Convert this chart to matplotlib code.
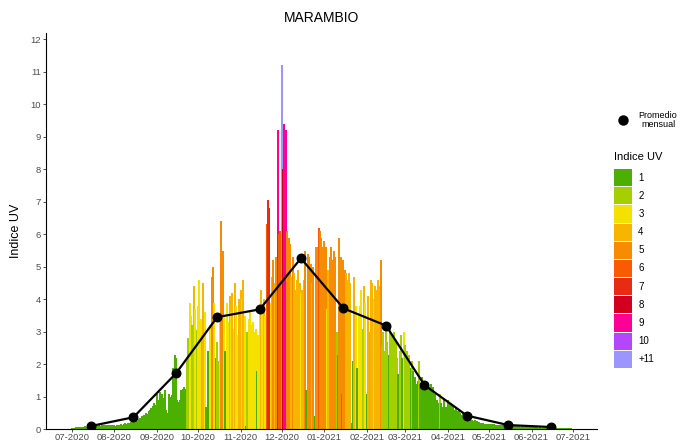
import numpy as np
import pandas as pd
import matplotlib
matplotlib.use("Agg")
import matplotlib.pyplot as plt
import matplotlib.dates as mdates
from matplotlib.patches import Rectangle
from matplotlib.lines import Line2D

plt.rcParams['font.family'] = ['Liberation Sans', 'DejaVu Sans']

title = "MARAMBIO"
y_label = "Indice UV"
legend_title = "Indice UV"
mean_label = "Promedio\nmensual"
uv_levels = ["1", "2", "3", "4", "5", "6", "7", "8", "9", "10", "+11"]
uv_colors = ["#4cb000", "#a6cf00", "#f5e100", "#f7b500", "#f78c00", "#fa5a00",
             "#e62d14", "#d2001e", "#ff0096", "#b446ff", "#9b96ff"]

# daily UV index values, by month (Jul 2020 - Jun 2021)
uv_jul20 = [0.04, 0.05, 0.05, 0.06, 0.06, 0.07, 0.07, 0.08, 0.07, 0.08,
            0.09, 0.08, 0.09, 0.1, 0.09, 0.1, 0.1, 0.11, 0.1, 0.11,
            0.12, 0.11, 0.12, 0.12, 0.13, 0.12, 0.13, 0.13, 0.14, 0.13, 0.14]
uv_aug20 = [0.12, 0.1, 0.13, 0.12, 0.14, 0.15, 0.13, 0.16, 0.18, 0.17,
            0.2, 0.19, 0.22, 0.25, 0.24, 0.28, 0.3, 0.27, 0.33, 0.35,
            0.4, 0.38, 0.45, 0.5, 0.47, 0.55, 0.6, 0.65, 0.73, 0.8, 0.75]
uv_sep20 = [1.1, 0.9, 1.15, 1.0, 1.1, 0.95, 1.2, 0.6, 0.5, 1.1,
            1.0, 1.05, 1.9, 2.3, 2.2, 0.9, 0.85, 0.9, 1.2, 1.25,
            1.3, 1.25, 2.1, 2.8, 3.9, 3.5, 3.2, 4.4, 3.7, 3.06]
uv_oct20 = [3.8, 4.6, 3.4, 2.9, 4.5, 3.6, 0.7, 2.4, 1.6, 3.2,
            4.7, 5.0, 3.9, 2.2, 2.7, 2.1, 3.5, 6.4, 5.5, 3.5,
            2.4, 3.9, 3.3, 4.1, 3.6, 4.2, 3.1, 4.5, 3.8, 2.9, 4.0]
uv_nov20 = [4.3, 4.0, 4.6, 3.5, 0.1, 3.0, 3.4, 3.6, 3.2, 3.3,
            3.0, 3.1, 1.8, 2.9, 3.6, 4.3, 3.7, 4.0, 3.5, 6.3,
            7.05, 6.8, 3.9, 4.7, 5.2, 4.5, 5.3, 9.2, 6.0, 6.1]
uv_dec20 = [11.2, 8.0, 9.4, 9.2, 6.1, 5.9, 5.7, 4.7, 5.3, 4.8,
            4.3, 4.6, 4.9, 4.5, 4.2, 4.3, 4.6, 5.5, 1.2, 5.4,
            5.3, 5.1, 4.5, 5.0, 0.4, 5.6, 5.6, 6.2, 6.1, 5.9, 5.6]
uv_jan21 = [5.8, 5.6, 3.7, 4.9, 5.3, 5.6, 5.2, 5.5, 5.3, 3.0,
            2.3, 5.9, 5.3, 1.1, 5.2, 4.9, 4.8, 4.6, 4.8, 4.5,
            0.2, 2.1, 4.7, 3.8, 1.9, 3.5, 3.8, 4.3, 3.1, 4.4, 3.9]
uv_feb21 = [1.1, 4.1, 3.0, 4.6, 4.5, 4.0, 4.4, 4.3, 4.6, 4.4,
            5.2, 2.6, 3.0, 2.4, 3.2, 2.7, 2.3, 3.2, 2.9, 2.5,
            3.0, 2.7, 2.2, 1.7, 2.4, 2.9, 2.2, 3.0]
uv_mar21 = [2.6, 2.4, 2.2, 2.3, 1.9, 2.1, 1.8, 1.6, 1.4, 1.5,
            2.1, 1.3, 1.6, 1.4, 1.2, 1.5, 1.4, 1.3, 1.2, 1.4,
            1.3, 1.0, 1.1, 0.9, 0.8, 1.1, 0.8, 0.7, 0.9, 0.6, 0.7]
uv_apr21 = [0.9, 0.8, 0.8, 0.7, 0.75, 0.6, 0.7, 0.55, 0.6, 0.5,
            0.45, 0.5, 0.4, 0.45, 0.35, 0.4, 0.35, 0.3, 0.3, 0.25,
            0.3, 0.25, 0.2, 0.22, 0.2, 0.18, 0.2, 0.17, 0.16, 0.15]
uv_may21 = [0.16, 0.15, 0.16, 0.14, 0.15, 0.14, 0.13, 0.14, 0.13, 0.12,
            0.13, 0.12, 0.12, 0.11, 0.12, 0.11, 0.1, 0.11, 0.1, 0.1,
            0.09, 0.1, 0.09, 0.08, 0.09, 0.08, 0.08, 0.07, 0.08, 0.07, 0.07]
uv_jun21 = [0.07, 0.06, 0.07, 0.06, 0.06, 0.05, 0.06, 0.05, 0.05, 0.05,
            0.04, 0.05, 0.04, 0.04, 0.04, 0.03, 0.04, 0.03, 0.03, 0.03,
            0.03, 0.03, 0.03, 0.04, 0.03, 0.04, 0.04, 0.05, 0.05, 0.05]

# UV category of each day (a = 10, b = 11)
cat_jul20 = "1111111111111111111111111111111"
cat_aug20 = "1111111111111111111111111111111"
cat_sep20 = "111111111111111111111122332432"
cat_oct20 = "3332431113" "5531223553" "13343434334"
cat_nov20 = "4343123333" "3313343436" "7734545966"
cat_dec20 = "b899555454" "4444344515" "55451556555"
cat_jan21 = "5534555552" "1551554444" "11431333243"
cat_feb21 = "1424434444" "5222221222" "22212213"
cat_mar21 = "2222121111" "2111111111111112" "11111"
cat_apr21 = "111111111111111111111111111111"
cat_may21 = "1111111111111111111111111111111"
cat_jun21 = "111111111111111111111111111111"

# monthly means
mean_dates = ["2020-07-15", "2020-08-15", "2020-09-15", "2020-10-15", "2020-11-15",
              "2020-12-15", "2021-01-15", "2021-02-15", "2021-03-15", "2021-04-15",
              "2021-05-15", "2021-06-15"]
monthly_mean = [0.10, 0.37, 1.72, 3.45, 3.69, 5.26, 3.72, 3.19, 1.36, 0.42, 0.13, 0.07]

values = (uv_jul20 + uv_aug20 + uv_sep20 + uv_oct20 + uv_nov20 + uv_dec20 +
          uv_jan21 + uv_feb21 + uv_mar21 + uv_apr21 + uv_may21 + uv_jun21)
cats_s = (cat_jul20 + cat_aug20 + cat_sep20 + cat_oct20 + cat_nov20 + cat_dec20 +
          cat_jan21 + cat_feb21 + cat_mar21 + cat_apr21 + cat_may21 + cat_jun21)
cats = [int(c, 16) for c in cats_s]
dates = pd.date_range("2020-07-01", periods=len(values), freq="D")
n = min(len(values), len(cats))
colors = [uv_colors[c - 1] for c in cats[:n]]

W, H = 687, 443
fig = plt.figure(figsize=(W / 100, H / 100), dpi=100)
ax = fig.add_axes([46 / W, 1 - 429.3 / H, (597 - 46) / W, (429.3 - 32.7) / H])

ax.bar(dates[:n], values[:n], width=1.45, color=colors, linewidth=0,
       antialiased=False)
md = pd.to_datetime(mean_dates)
ax.plot(md, monthly_mean, color="black", linewidth=1.6, zorder=3)
ax.scatter(md, monthly_mean, s=38, color="black", zorder=4)

x0 = mdates.date2num(pd.Timestamp("2020-07-01"))
x1 = mdates.date2num(pd.Timestamp("2021-07-01"))
ax.set_xlim(x0 - 18.7, x1 + 17.7)
ax.set_ylim(0, 12.2)
ax.set_yticks(range(0, 13))
ax.set_xticks(pd.date_range("2020-07-01", "2021-07-01", freq="MS"))
ax.xaxis.set_major_formatter(mdates.DateFormatter("%m-%Y"))

for s in ["top", "right"]:
    ax.spines[s].set_visible(False)
for s in ["left", "bottom"]:
    ax.spines[s].set_color("black")
    ax.spines[s].set_linewidth(0.8)
ax.tick_params(axis="both", length=2.2, width=0.6, color="#333333",
               labelsize=6.8, labelcolor="#4d4d4d", pad=1.5)
ax.tick_params(axis="x", pad=0.5)

ax.set_ylabel(y_label, fontsize=9, labelpad=6)
fig.text(321.5 / W, 1 - 18 / H, title, ha="center", va="center", fontsize=10)

# legend: monthly mean
fig.add_artist(Line2D([622.7 / W], [1 - 120 / H], marker="o", markersize=6.5,
                      color="black", linestyle="none"))
fig.text(658 / W, 1 - 120 / H, mean_label, ha="center", va="center", fontsize=6.5,
         linespacing=1.0)

# legend: UV levels
fig.text(614 / W, 1 - 157.3 / H, legend_title, ha="left", va="center", fontsize=8)
for i, (lab, col) in enumerate(zip(uv_levels, uv_colors)):
    top = 169 + i * 18.17
    fig.add_artist(Rectangle((614 / W, 1 - (top + 17.2) / H), 17.7 / W, 17.2 / H,
                             facecolor=col, edgecolor="none"))
    fig.text(638.3 / W, 1 - (top + 8.6) / H, lab, ha="left", va="center", fontsize=7)

fig.savefig("out.png", dpi=100)
